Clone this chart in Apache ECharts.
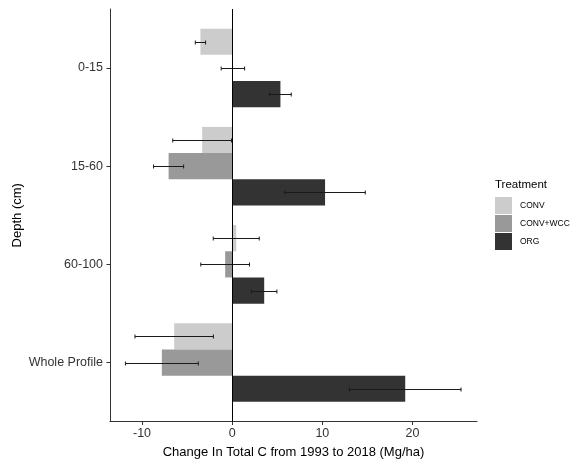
<!DOCTYPE html>
<html>
<head>
<meta charset="utf-8">
<script src="https://cdn.jsdelivr.net/npm/echarts@6/dist/echarts.min.js"></script>
<style>
html,body{margin:0;padding:0;background:#fff;}
#main{width:579px;height:464px;}
</style>
</head>
<body>
<div id="main"></div>
<script>
var categories = ['0-15', '15-60', '60-100', 'Whole Profile'];
var treatments = ['CONV', 'CONV+WCC', 'ORG'];
var convValues = [-3.52, -3.33, 0.45, -6.43];
var convErrors = [0.57, 3.26, 2.55, 4.35];
var convWccValues = [0.08, -7.05, -0.78, -7.8];
var convWccErrors = [1.3, 1.67, 2.7, 4.04];
var orgValues = [5.35, 10.3, 3.55, 19.19];
var orgErrors = [1.2, 4.46, 1.41, 6.19];
var xTicks = [-10, 0, 10, 20];
var yTicks = [0, 1, 2, 3];

var colors = ['#cccccc', '#999999', '#333333'];
var valueSets = [convValues, convWccValues, orgValues];
var errorSets = [convErrors, convWccErrors, orgErrors];
var barH = 0.8 / 3;
var FONT = "'Liberation Sans', Arial, sans-serif";

function makeSeries(si) {
  var data = categories.map(function (c, i) {
    return [valueSets[si][i], i, errorSets[si][i]];
  });
  var s = {
    name: treatments[si],
    type: 'custom',
    itemStyle: { color: colors[si] },
    data: data,
    encode: { x: 0, y: 1 },
    renderItem: function (params, api) {
      var v = api.value(0), cat = api.value(1), err = api.value(2);
      var yc = cat + (si - 1) * barH;
      var p0 = api.coord([0, yc - barH / 2]);
      var p1 = api.coord([v, yc + barH / 2]);
      var lo = api.coord([v - err, yc]);
      var hi = api.coord([v + err, yc]);
      var cy = Math.round(lo[1]) + 0.5;
      var x0 = Math.min(p0[0], p1[0]);
      var y0 = Math.min(p0[1], p1[1]);
      return {
        type: 'group',
        children: [
          { type: 'rect', shape: { x: x0, y: y0, width: Math.abs(p1[0] - p0[0]), height: Math.abs(p1[1] - p0[1]) },
            style: { fill: colors[si] } },
          { type: 'line', shape: { x1: lo[0], y1: cy, x2: hi[0], y2: cy }, style: { stroke: '#1a1a1a', lineWidth: 1 } },
          { type: 'line', shape: { x1: lo[0], y1: cy - 2, x2: lo[0], y2: cy + 2 }, style: { stroke: '#1a1a1a', lineWidth: 1 } },
          { type: 'line', shape: { x1: hi[0], y1: cy - 2, x2: hi[0], y2: cy + 2 }, style: { stroke: '#1a1a1a', lineWidth: 1 } }
        ]
      };
    }
  };
  if (si === 2) {
    s.markLine = {
      silent: true, symbol: 'none', label: { show: false },
      lineStyle: { color: '#000', width: 1, type: 'solid' },
      data: [{ xAxis: 0 }]
    };
  }
  return s;
}

var chart = echarts.init(document.getElementById('main'));
chart.setOption({
  animation: false,
  backgroundColor: '#fff',
  textStyle: { fontFamily: FONT },
  title: {
    text: 'Treatment', left: 495, top: 179, padding: 0,
    textStyle: { fontSize: 11.5, fontWeight: 'normal', color: '#000', fontFamily: FONT }
  },
  legend: {
    data: treatments, orient: 'vertical', left: 495, top: 197, padding: 0,
    itemGap: 1, itemWidth: 17, itemHeight: 17, icon: 'rect',
    textStyle: { fontSize: 8.5, color: '#000', fontFamily: FONT, padding: [0, 0, 0, 3] }
  },
  grid: { left: 110, right: 102, top: 9, bottom: 42.5, containLabel: false },
  xAxis: {
    type: 'value', min: -13.55, max: 27.15,
    name: 'Change In Total C from 1993 to 2018 (Mg/ha)', nameLocation: 'middle', nameGap: 24,
    nameMoveOverlap: false,
    nameTextStyle: { fontSize: 13, color: '#000', fontFamily: FONT },
    axisLine: { show: true, onZero: false, lineStyle: { color: '#333', width: 1 } },
    axisTick: { show: true, length: 3.5, customValues: xTicks, lineStyle: { color: '#333' } },
    axisLabel: { customValues: xTicks, fontSize: 12.5, color: '#333', margin: 6, fontFamily: FONT },
    splitLine: { show: false }
  },
  yAxis: {
    type: 'value', min: -0.6, max: 3.6, inverse: true,
    name: 'Depth (cm)', nameLocation: 'middle', nameGap: 86, nameRotate: 90,
    nameMoveOverlap: false,
    nameTextStyle: { fontSize: 13, color: '#000', fontFamily: FONT },
    axisLine: { show: true, onZero: false, lineStyle: { color: '#333', width: 1 } },
    axisTick: { show: true, length: 3.5, customValues: yTicks, lineStyle: { color: '#333' } },
    axisLabel: { customValues: yTicks, fontSize: 12.5, color: '#333', margin: 7, fontFamily: FONT,
      formatter: function (v) { return categories[Math.round(v)]; } },
    splitLine: { show: false }
  },
  series: [makeSeries(0), makeSeries(1), makeSeries(2)]
});
</script>
</body>
</html>
